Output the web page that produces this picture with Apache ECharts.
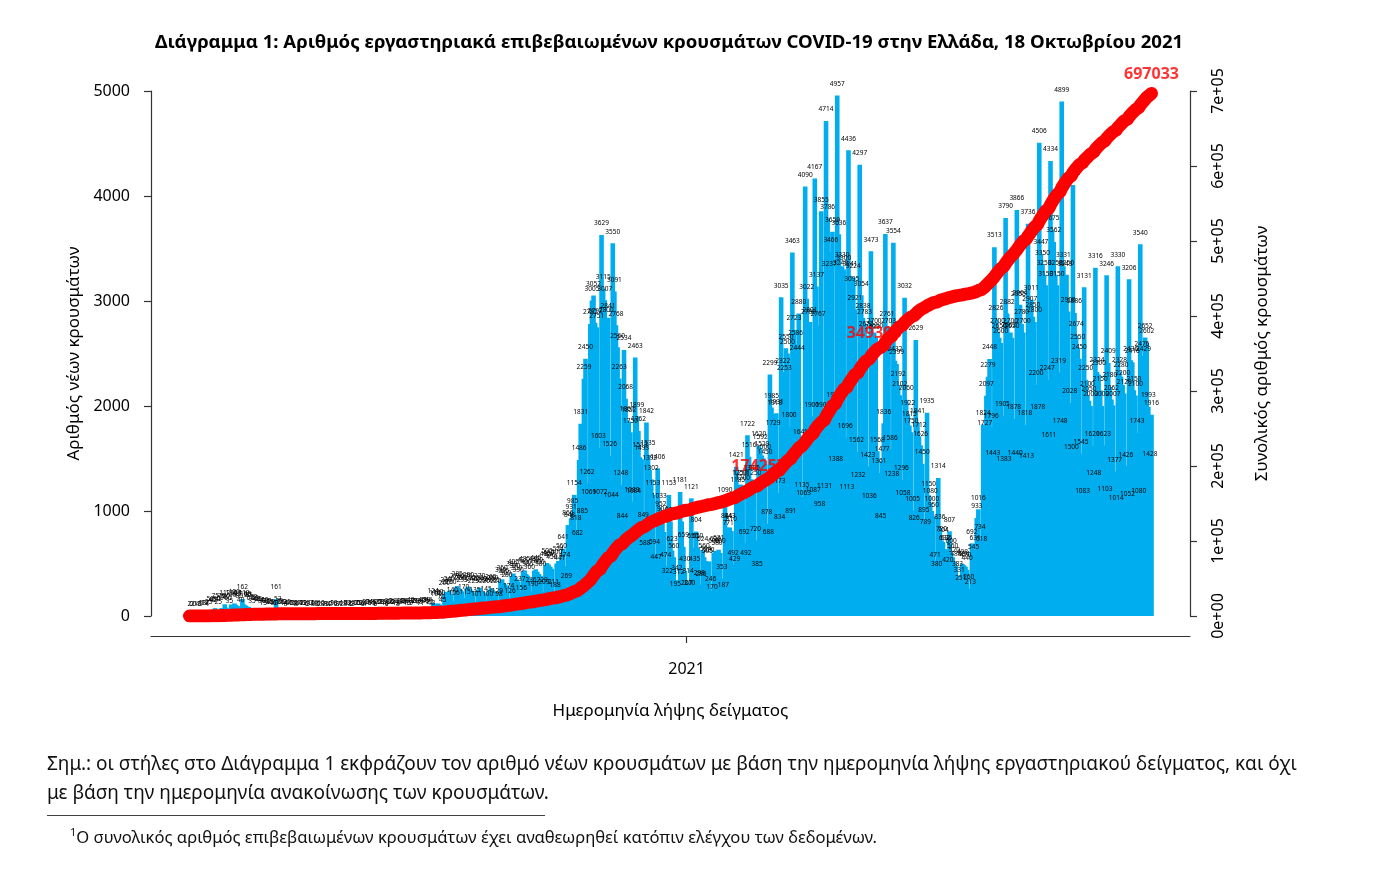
<!DOCTYPE html>
<html>
<head>
<meta charset="utf-8">
<script src="https://cdn.jsdelivr.net/npm/echarts/dist/echarts.min.js"></script>
<style>
html,body{margin:0;padding:0;background:#fff;}
#chart{position:absolute;left:0;top:0;width:1380px;height:876px;}
.note{position:absolute;font-family:'Noto Sans',sans-serif;color:#111;white-space:nowrap;}
</style>
</head>
<body>
<div id="chart"></div>
<div class="note" style="left:47px;top:749px;font-size:19px;line-height:29px;">Σημ.: οι στήλες στο Διάγραμμα 1 εκφράζουν τον αριθμό νέων κρουσμάτων με βάση την ημερομηνία λήψης εργαστηριακού δείγματος, και όχι<br>με βάση την ημερομηνία ανακοίνωσης των κρουσμάτων.</div>
<div style="position:absolute;left:47px;top:815px;width:498px;height:0;border-top:1px solid #444;"></div>
<div class="note" style="left:70px;top:820px;font-size:16.6px;line-height:24px;"><sup style="font-size:11px;">1</sup>Ο συνολικός αριθμός επιβεβαιωμένων κρουσμάτων έχει αναθεωρηθεί κατόπιν ελέγχου των δεδομένων.</div>
<script>
// ---- Daily new cases by sampling date (Mon..Sun weeks) ----
// Feb 26 – Mar 1, 2020
const firstDays2020 = [2, 0, 2, 0, 1];
// weeks from Mon 2 Mar 2020
const spring2020 = [
  [4,3,5,13,11,17,4],[25,50,40,45,75,50,25],[60,75,70,112,80,60,35],[110,90,120,107,95,80,40],
  [162,110,100,90,85,60,35],[70,62,49,55,44,30,15],[40,36,30,25,22,16,10],[161,53,30,26,20,14,8],
  [22,16,13,15,11,8,4],[14,12,10,12,9,6,3],[12,10,8,10,8,5,2],[10,8,7,8,6,4,2],[9,10,6,8,7,4,2]
];
// weeks from Mon 1 Jun 2020
const summer2020 = [
  [10,8,10,12,8,5,3],[12,10,15,12,10,6,4],[20,16,24,18,15,9,5],[26,21,18,22,19,10,6],
  [30,26,22,28,24,13,8],[34,30,26,28,30,15,10],[40,36,31,29,33,18,11],[46,41,36,39,44,22,13],
  [124,110,100,120,110,70,45],[200,230,215,240,210,140,106],[270,285,260,250,235,170,115],
  [270,280,255,240,225,135,101],[250,270,240,230,220,145,100]
];
// weeks from Mon 31 Aug 2020
const autumn2020 = [
  [245,265,250,235,220,129,98],[330,350,315,300,280,174,126],[380,405,370,350,330,237,156],
  [421,435,400,385,360,236,190],[432,445,420,400,380,229,209],[480,505,490,470,450,211,188],
  [500,524,441,560,641,474,269],[866,848,931,985,1154,818,682],[1486,1831,885,2259,2450,1262,1069],
  [2782,3005,3052,2792,2751,1603,1072],[3629,3115,3007,2800,2841,1526,1044],
  [3550,3091,2768,2560,2263,1248,844],[2534,2068,1861,1852,1750,1089,1084]
];
// weeks from Mon 30 Nov 2020
const winter2021 = [
  [2463,1899,1762,1513,1493,849,588],[1842,1535,1392,1302,1153,594,447],[1406,1033,952,904,800,474,322],
  [1153,900,623,560,195,342,312],[1181,900,659,430,207,314,200],[1121,650,435,804,650,298,286],
  [624,560,524,505,520,246,170],[600,620,580,631,600,353,187],[1090,844,771,843,810,492,429],
  [1421,1185,1250,1250,1200,692,492],[1722,1516,1300,1300,1250,720,385],
  [1620,1592,1529,1500,1450,878,688],[2299,1985,1729,1918,1931,1173,834]
];
// weeks from Mon 1 Mar 2021
const spring2021 = [
  [3035,2322,2253,2550,2500,1800,891],[3463,2723,2586,2444,2880,1641,1135],[1063,4090,3022,2788,2801,1900,1087],
  [4167,3137,2767,958,3855,1900,1131],[4714,3786,3237,3466,3659,1990,1388],[4957,3636,3249,3330,3300,1696,1113],
  [4436,3241,3095,3224,2921,1562,1232],[4297,3054,2838,2783,2672,1423,1036],[3473,2639,2700,2650,1568,1361,845],
  [1477,1836,3637,2761,2703,1586,1238],[3554,2432,2399,2192,2102,1296,1058],[3032,2060,1922,1815,1750,1005,826],
  [2629,1841,1712,1626,1450,895,789]
];
// weeks from Mon 31 May 2021
const summer2021 = [
  [1935,1150,1080,1000,950,471,380],[1314,836,720,704,632,636,420],[807,600,560,520,480,383,331],
  [251,498,484,470,440,260,213],[692,545,631,933,1016,734,618],[1824,1727,2097,2279,2448,1796,1443],
  [3513,2826,2700,2650,2600,1905,1383],[3790,2882,2662,2700,2650,1878,1440],[3866,2955,2964,2780,2700,1818,1413],
  [3736,2907,3011,2850,2800,2200,1878],[4506,3447,3350,3250,3150,2247,1611],[4334,3675,3562,3250,3150,2319,1748],
  [4899,3331,3243,3250,2900,2028,1500]
];
// weeks from Mon 30 Aug 2021 (last value: Mon 18 Oct 2021)
const autumn2021 = [
  [4105,2886,2674,2550,2450,1545,1083],[3131,2250,2100,2050,2000,1620,1248],[3316,2324,2300,2150,2000,1623,1103],
  [3246,2409,2180,2062,2007,1377,1014],[3330,2328,2280,2200,2120,1426,1052],[3206,2436,2416,2150,2100,1743,1080],
  [3540,2476,2429,2652,2602,1993,1428],[1916]
];
// red annotations on the cumulative line (day index from 26 Feb 2020, text)
const cumLabels = [
  { day: 355, text: '174257' },
  { day: 427, text: '349393' },
  { day: 600, text: '697033' }
];
const yLeftTicks = [0, 1000, 2000, 3000, 4000, 5000];
const yRightTicks = ['0e+00','1e+05','2e+05','3e+05','4e+05','5e+05','6e+05','7e+05'];
const xTickDate = '2021-01-01';
const xTickLabel = '2021';

// ---- build ----
const daily = firstDays2020.concat(
  ...[spring2020, summer2020, autumn2020, winter2021, spring2021, summer2021, autumn2021].map(b => b.flat())
);
const nDays = daily.length;
const PAD = 24;
const start = Date.UTC(2020, 1, 26);
const cats = [];
for (let i = -PAD; i < nDays + PAD; i++) {
  cats.push(new Date(start + i * 86400000).toISOString().slice(0, 10));
}
const cum = [];
let s = 0;
daily.forEach(v => { s += v; cum.push(s); });
const padArr = new Array(PAD).fill(null);
const barData = padArr.concat(daily, padArr);
const lineData = padArr.concat(cum, padArr);
const annData = cumLabels.map(a => [a.day + PAD, cum[a.day]]);

const FONT = 'Noto Sans';
const axisColor = '#333';
const chart = echarts.init(document.getElementById('chart'), null, { renderer: 'canvas' });
chart.setOption({
  animation: false,
  backgroundColor: '#fff',
  textStyle: { fontFamily: FONT },
  title: {
    text: 'Διάγραμμα 1: Αριθμός εργαστηριακά επιβεβαιωμένων κρουσμάτων COVID-19 στην Ελλάδα, 18 Οκτωβρίου 2021',
    left: 155, top: 33, padding: 0,
    textStyle: { fontFamily: FONT, fontWeight: 'bold', fontSize: 18.6, color: '#000' }
  },
  grid: { left: 151, right: 190, top: 91, bottom: 260 },
  xAxis: {
    type: 'category', data: cats, boundaryGap: false, offset: 20,
    axisLine: { onZero: false, lineStyle: { color: axisColor, width: 1.2 } },
    axisTick: { length: 7, interval: (i, v) => v === xTickDate, lineStyle: { color: axisColor, width: 1.2 } },
    axisLabel: { interval: (i, v) => v === xTickDate, formatter: () => xTickLabel, margin: 25, fontSize: 16, color: '#000', fontFamily: FONT },
    splitLine: { show: false },
    name: 'Ημερομηνία λήψης δείγματος', nameLocation: 'middle', nameGap: 67,
    nameTextStyle: { fontSize: 17, color: '#000', fontFamily: FONT }
  },
  yAxis: [
    {
      type: 'value', position: 'left', min: yLeftTicks[0], max: yLeftTicks[yLeftTicks.length - 1], interval: 1000,
      axisLine: { show: true, lineStyle: { color: axisColor, width: 1.2 } },
      axisTick: { show: true, length: 7, lineStyle: { color: axisColor, width: 1.2 } },
      axisLabel: { margin: 21, fontSize: 16, color: '#000', fontFamily: FONT, formatter: v => String(v) },
      splitLine: { show: false },
      name: 'Αριθμός νέων κρουσμάτων', nameLocation: 'middle', nameRotate: 90, nameGap: 62,
      nameTextStyle: { fontSize: 17, color: '#000', fontFamily: FONT }
    },
    {
      type: 'value', position: 'right', min: 0, max: 700000, interval: 100000,
      axisLine: { show: true, lineStyle: { color: axisColor, width: 1.2 } },
      axisTick: { show: true, length: 7, lineStyle: { color: axisColor, width: 1.2 } },
      axisLabel: { rotate: 90, margin: 20, fontSize: 16, color: '#000', fontFamily: FONT,
        formatter: v => yRightTicks[Math.round(v / 100000)] || '' },
      splitLine: { show: false },
      name: 'Συνολικός αριθμός κρουσμάτων', nameLocation: 'middle', nameRotate: 90, nameGap: 64,
      nameTextStyle: { fontSize: 17, color: '#000', fontFamily: FONT }
    }
  ],
  series: [
    {
      type: 'bar', data: barData, barWidth: 4.6, z: 2, silent: true,
      itemStyle: { color: '#00AEEF' },
      label: { show: true, position: 'top', distance: 8, fontSize: 6.5, color: '#000', fontFamily: FONT }
    },
    {
      type: 'scatter', yAxisIndex: 1, data: annData, symbolSize: 1, z: 4, silent: true,
      itemStyle: { color: 'rgba(0,0,0,0)' },
      label: { show: true, position: 'top', distance: 10, color: '#FF0000', fontWeight: 'bold', fontSize: 16, fontFamily: FONT,
        formatter: p => cumLabels[p.dataIndex].text }
    },
    {
      type: 'line', yAxisIndex: 1, data: lineData, showSymbol: false, symbol: 'none', z: 5, silent: true,
      lineStyle: { color: '#FF0000', width: 13, cap: 'round', join: 'round' }
    }
  ]
});
</script>
</body>
</html>
